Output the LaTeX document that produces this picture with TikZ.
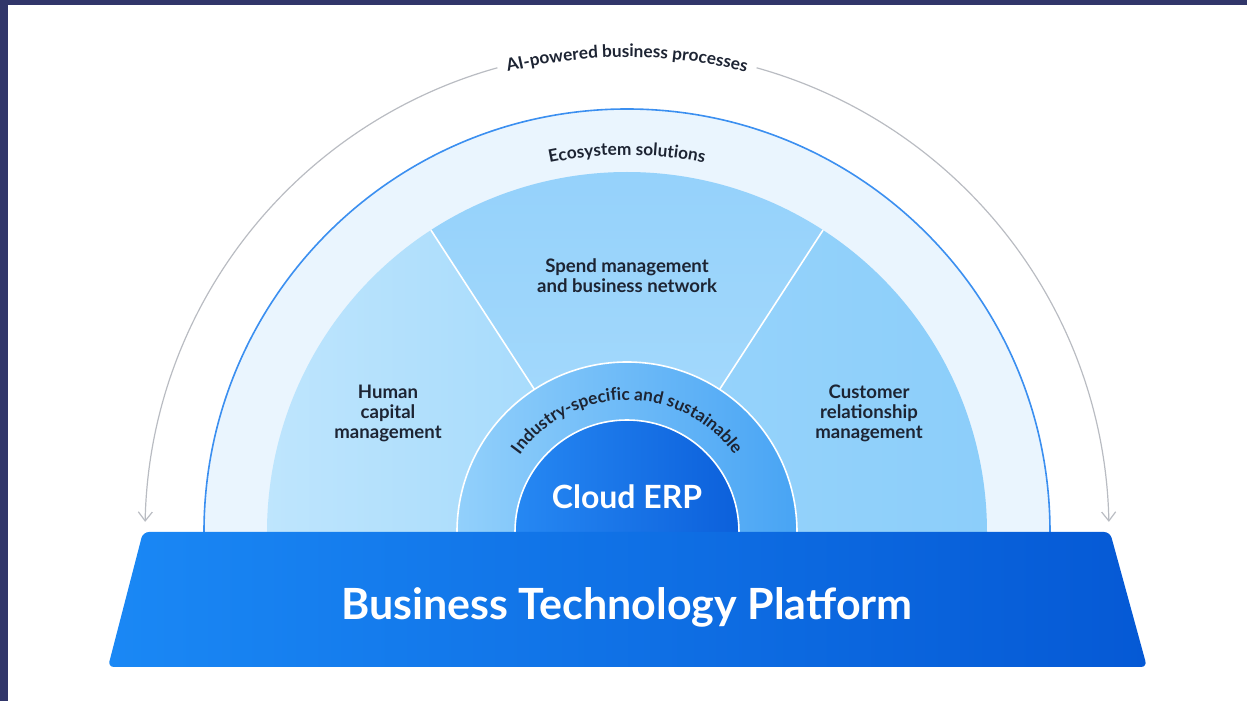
\documentclass[tikz,border=0pt]{standalone}
\usepackage{fontspec}
\setmainfont{Lato}
\usetikzlibrary{arrows.meta,decorations.text}
\definecolor{framecol}{HTML}{31366A}
\definecolor{txtdark}{HTML}{1D2433}
\definecolor{ecofill}{HTML}{EAF5FE}
\definecolor{ecoline}{HTML}{3B8FF0}
\definecolor{greyline}{HTML}{B9BCC2}
\tikzset{font=\bfseries\color{txtdark}}
\tikzset{seglabel/.style={align=center,font=\fontsize{9.3}{10}\selectfont\bfseries\color{txtdark}}}
\tikzset{procline/.style={greyline,line width=0.6pt,-{Straight Barb[length=4.5pt,width=7pt]}}}
\tikzset{sepline/.style={white,line width=0.8pt}}
\newcommand{\arcfont}{\fontsize{8.6}{9}\selectfont\bfseries\color{txtdark}}

\begin{document}
\begin{tikzpicture}[x=0.5pt,y=0.5pt]
  \useasboundingbox (-627,-169) rectangle (620,532);
  \fill[framecol] (-627,532) rectangle (-619,-169);
  \fill[framecol] (-627,532) rectangle (620,527);

  % outer arcs with arrows
  \draw[procline] (105.6:482) arc[start angle=105.6, end angle=178.8, radius=482];
  \draw[procline] (74.4:482) arc[start angle=74.4, end angle=1.2, radius=482];
  \path[decorate,decoration={text along path,text align=center,
      text={|\arcfont|AI-powered business processes}}]
      (180:475) arc[start angle=180, end angle=0, radius=475];

  % ecosystem ring
  \fill[ecofill] (-423,0) arc[start angle=180, end angle=0, radius=423] -- cycle;
  \draw[ecoline,line width=0.8pt] (-423,0) arc[start angle=180, end angle=0, radius=423];
  \path[decorate,decoration={text along path,text align=center,
      text={|\arcfont|Ecosystem solutions}}]
      (180:377) arc[start angle=180, end angle=0, radius=377];

  % segments
  \shade[left color={rgb,255:red,190;green,229;blue,253}, right color={rgb,255:red,160;green,216;blue,251}]
      (0,0) -- (123:360) arc[start angle=123, end angle=180, radius=360] -- cycle;
  \shade[top color={rgb,255:red,148;green,209;blue,251}, bottom color={rgb,255:red,170;green,220;blue,252}]
      (0,0) -- (57:360) arc[start angle=57, end angle=123, radius=360] -- cycle;
  \shade[left color={rgb,255:red,152;green,212;blue,251}, right color={rgb,255:red,140;green,206;blue,250}]
      (0,0) -- (0:360) arc[start angle=0, end angle=57, radius=360] -- cycle;
  \foreach \a in {57,123}
    \draw[sepline] (\a:170) -- (\a:360);

  \node[seglabel] (spend) at (0,256) {Spend management\\and business network};
  \node[seglabel] (human) at (-239,119) {Human\\capital\\management};
  \node[seglabel] (crm) at (242,119) {Customer\\relationship\\management};

  % industry ring and core
  \shade[left color={rgb,255:red,146;green,208;blue,251}, right color={rgb,255:red,72;green,164;blue,244}]
      (-170,0) arc[start angle=180, end angle=0, radius=170] -- cycle;
  \draw[white,line width=0.8pt] (-170,0) arc[start angle=180, end angle=0, radius=170];
  \path[decorate,decoration={text along path,text align=center,
      text={|\arcfont|Industry-specific and sustainable}}]
      (180:132) arc[start angle=180, end angle=0, radius=132];
  \shade[left color={rgb,255:red,38;green,136;blue,243}, right color={rgb,255:red,12;green,96;blue,219}]
      (-112,0) arc[start angle=180, end angle=0, radius=112] -- cycle;
  \draw[white,line width=0.8pt] (-112,0) arc[start angle=180, end angle=0, radius=112];
  \node[font=\fontsize{16}{18}\selectfont\bfseries\color{white}] (erp) at (0,35) {Cloud ERP};

  % platform
  \shade[left color={rgb,255:red,26;green,136;blue,245}, right color={rgb,255:red,5;green,89;blue,213},rounded corners=3pt]
      (-484,0) -- (483,0) -- (520,-135) -- (-519,-135) -- cycle;
  \node[font=\fontsize{21.5}{24}\selectfont\bfseries\color{white}] (btp) at (0,-75) {Business Technology Platform};
\end{tikzpicture}
\end{document}
